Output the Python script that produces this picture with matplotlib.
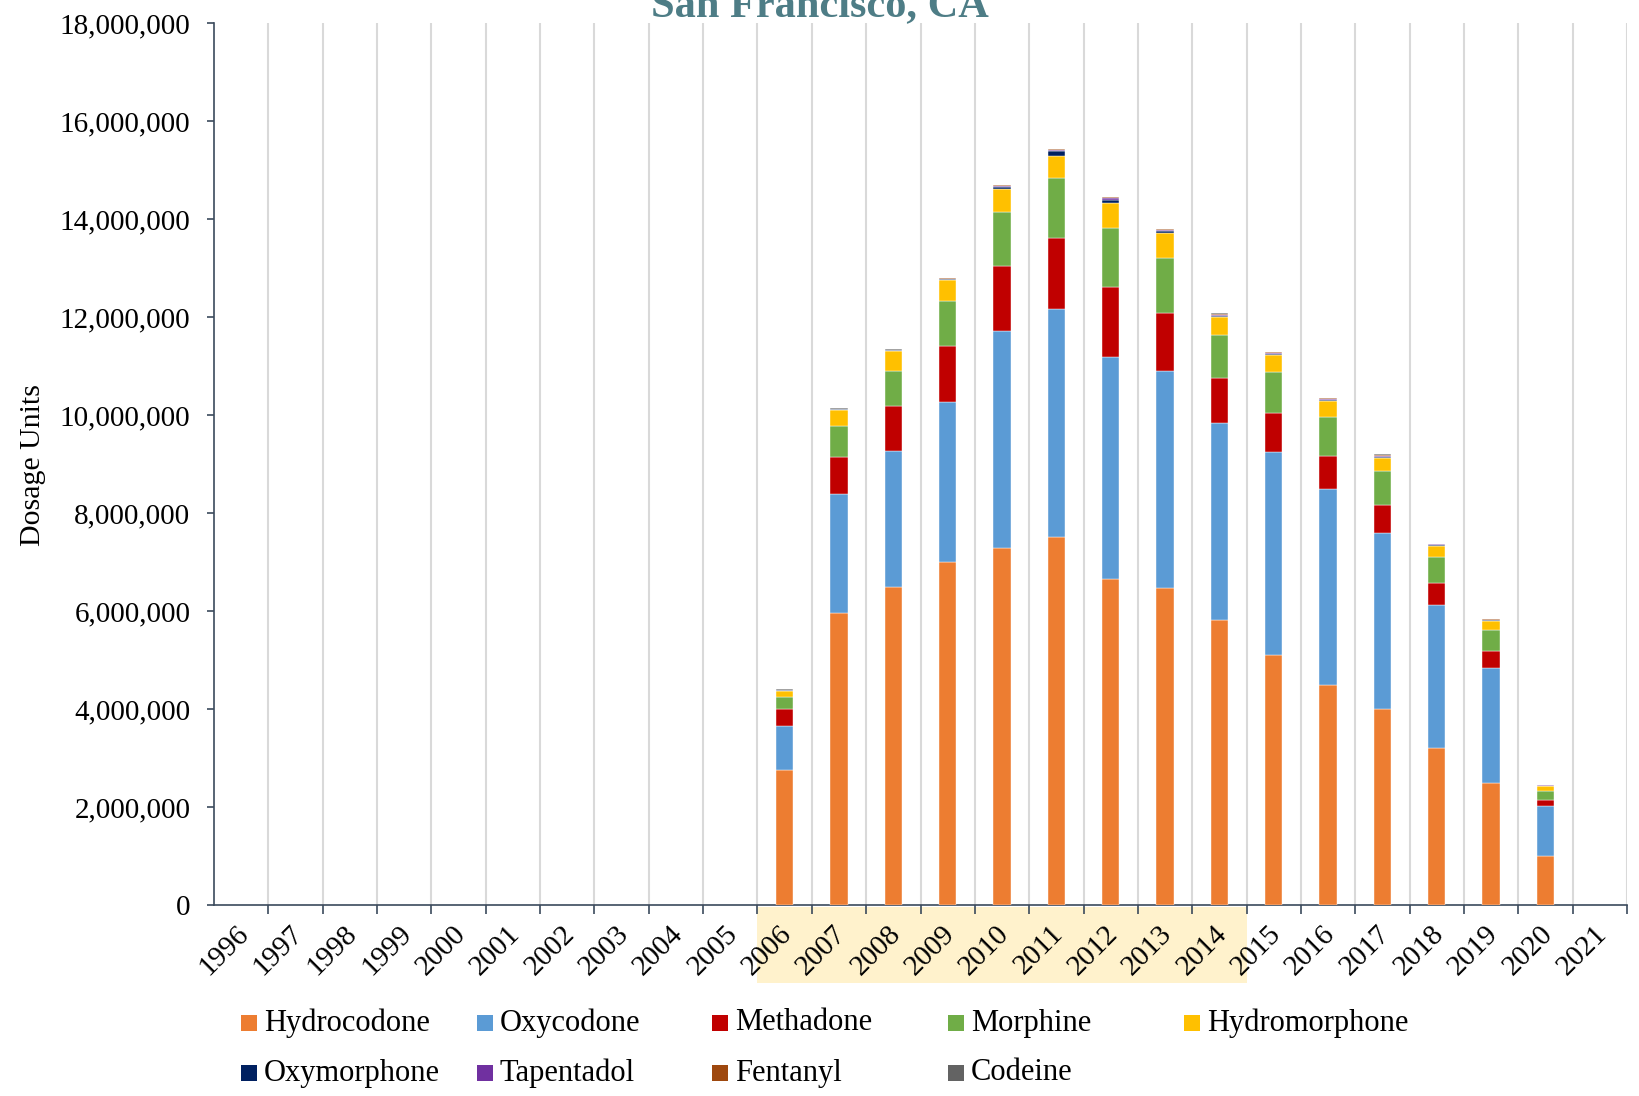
import numpy as np
import matplotlib.pyplot as plt
from matplotlib.patches import Rectangle
from matplotlib.transforms import blended_transform_factory, ScaledTranslation

# Дані (оцінено з графіка), мільйони одиниць дозування
years = [str(y) for y in range(1996, 2022)]
data_years = list(range(2006, 2021))

hydrocodone   = [2.75, 5.95, 6.50, 7.01, 7.29, 7.51, 6.65, 6.46, 5.82, 5.10, 4.50, 3.99, 3.20, 2.49, 1.00]
oxycodone     = [0.90, 2.43, 2.77, 3.25, 4.42, 4.66, 4.54, 4.44, 4.01, 4.15, 3.99, 3.60, 2.92, 2.35, 1.03]
methadone     = [0.34, 0.77, 0.92, 1.15, 1.34, 1.45, 1.43, 1.19, 0.92, 0.79, 0.68, 0.58, 0.45, 0.34, 0.12]
morphine      = [0.25, 0.62, 0.71, 0.91, 1.09, 1.22, 1.20, 1.11, 0.89, 0.83, 0.79, 0.68, 0.53, 0.43, 0.17]
hydromorphone = [0.13, 0.34, 0.40, 0.43, 0.47, 0.45, 0.51, 0.51, 0.36, 0.35, 0.32, 0.28, 0.23, 0.19, 0.11]
oxymorphone   = [0.01, 0.01, 0.02, 0.03, 0.04, 0.09, 0.06, 0.04, 0.03, 0.03, 0.02, 0.02, 0.01, 0.01, 0.005]
tapentadol    = [0.0, 0.0, 0.0, 0.005, 0.02, 0.03, 0.03, 0.02, 0.02, 0.02, 0.03, 0.02, 0.02, 0.01, 0.01]
fentanyl      = [0.005, 0.005, 0.01, 0.01, 0.02, 0.02, 0.03, 0.02, 0.02, 0.02, 0.02, 0.02, 0.01, 0.01, 0.005]
codeine       = [0.02, 0.02, 0.01, 0.005, 0.005, 0.005, 0.005, 0.005, 0.005, 0.005, 0.005, 0.005, 0.005, 0.005, 0.0]

names = ['Hydrocodone', 'Oxycodone', 'Methadone', 'Morphine', 'Hydromorphone',
         'Oxymorphone', 'Tapentadol', 'Fentanyl', 'Codeine']
colors = ['#ED7D31', '#5B9BD5', '#C00000', '#70AD47', '#FFC000',
          '#002060', '#7030A0', '#9E480E', '#636363']
series = [hydrocodone, oxycodone, methadone, morphine, hydromorphone,
          oxymorphone, tapentadol, fentanyl, codeine]

plt.rcParams['font.family'] = ['Liberation Serif', 'DejaVu Serif']

W, H = 1639, 1096
fig = plt.figure(figsize=(W / 100, H / 100), dpi=100)
ax = fig.add_axes([214 / W, 1 - 905 / H, (1627 - 214) / W, (905 - 23) / H])

x = np.array([years.index(str(y)) for y in data_years])
bottom = np.zeros(len(data_years))
for vals, c in zip(series, colors):
    v = np.array(vals) * 1e6
    ax.bar(x, v, 0.32, bottom=bottom, color=c, edgecolor='white', linewidth=0.3, zorder=3)
    bottom += v

ax.set_xlim(-0.5, len(years) - 0.5)
ax.set_ylim(0, 18e6)
yt = np.arange(0, 18e6 + 1, 2e6)
ax.set_yticks(yt)
ax.set_yticklabels([f"{int(v):,}" for v in yt], fontsize=21)

# підписи років (повернуті на 45°)
ax.set_xticks([])
tr_lab = blended_transform_factory(ax.transData, ax.transAxes) + \
    ScaledTranslation(-6 / 100, -15.5 / 100, fig.dpi_scale_trans)
for i, yr in enumerate(years):
    ax.text(i, 0, yr, transform=tr_lab, rotation=45, ha='right', va='top',
            rotation_mode='anchor', fontsize=21, clip_on=False)

ax.set_xticks(np.arange(len(years)) + 0.5, minor=True)
ax.tick_params(axis='x', which='minor', length=6.5, color='#3B4A5C', width=1.2, direction='out')
ax.tick_params(axis='y', length=5, pad=12, color='#3B4A5C', width=1.2)
ax.grid(True, which='minor', axis='x', color='#D9D9D9', linewidth=1.5, zorder=0)

for s in ['top', 'right']:
    ax.spines[s].set_visible(False)
for s in ['left', 'bottom']:
    ax.spines[s].set_color('#3B4A5C')
    ax.spines[s].set_linewidth(1.2)

fig.text(33 / W, 1 - 465 / H, 'Dosage Units', rotation=90, ha='center', va='center',
         fontsize=21.5)

# підсвітка років 2006-2014
tr = blended_transform_factory(ax.transData, fig.transFigure)
ax.add_patch(Rectangle((years.index('2006') - 0.5, 1 - 983 / H), 9, 76 / H,
                       transform=tr, facecolor='#FFF2CC', edgecolor='none',
                       clip_on=False, zorder=0.2))

fig.text(820 / W, 1 - 16 / H, 'San Francisco, CA', ha='center', va='baseline',
         fontsize=30.5, fontweight='bold', color='#4E7D86')

# легенда
col_x = [241, 477, 712, 948, 1184]
row_y = [1023, 1073]
for i, (n, c) in enumerate(zip(names, colors)):
    r, k = divmod(i, 5)
    fig.patches.append(Rectangle((col_x[k] / W, 1 - (row_y[r] + 8) / H), 16 / W, 16 / H,
                                 transform=fig.transFigure, facecolor=c, edgecolor='none'))
    fig.text((col_x[k] + 23) / W, 1 - row_y[r] / H, n, ha='left', va='center', fontsize=22)

plt.savefig('out.png', dpi=100)
